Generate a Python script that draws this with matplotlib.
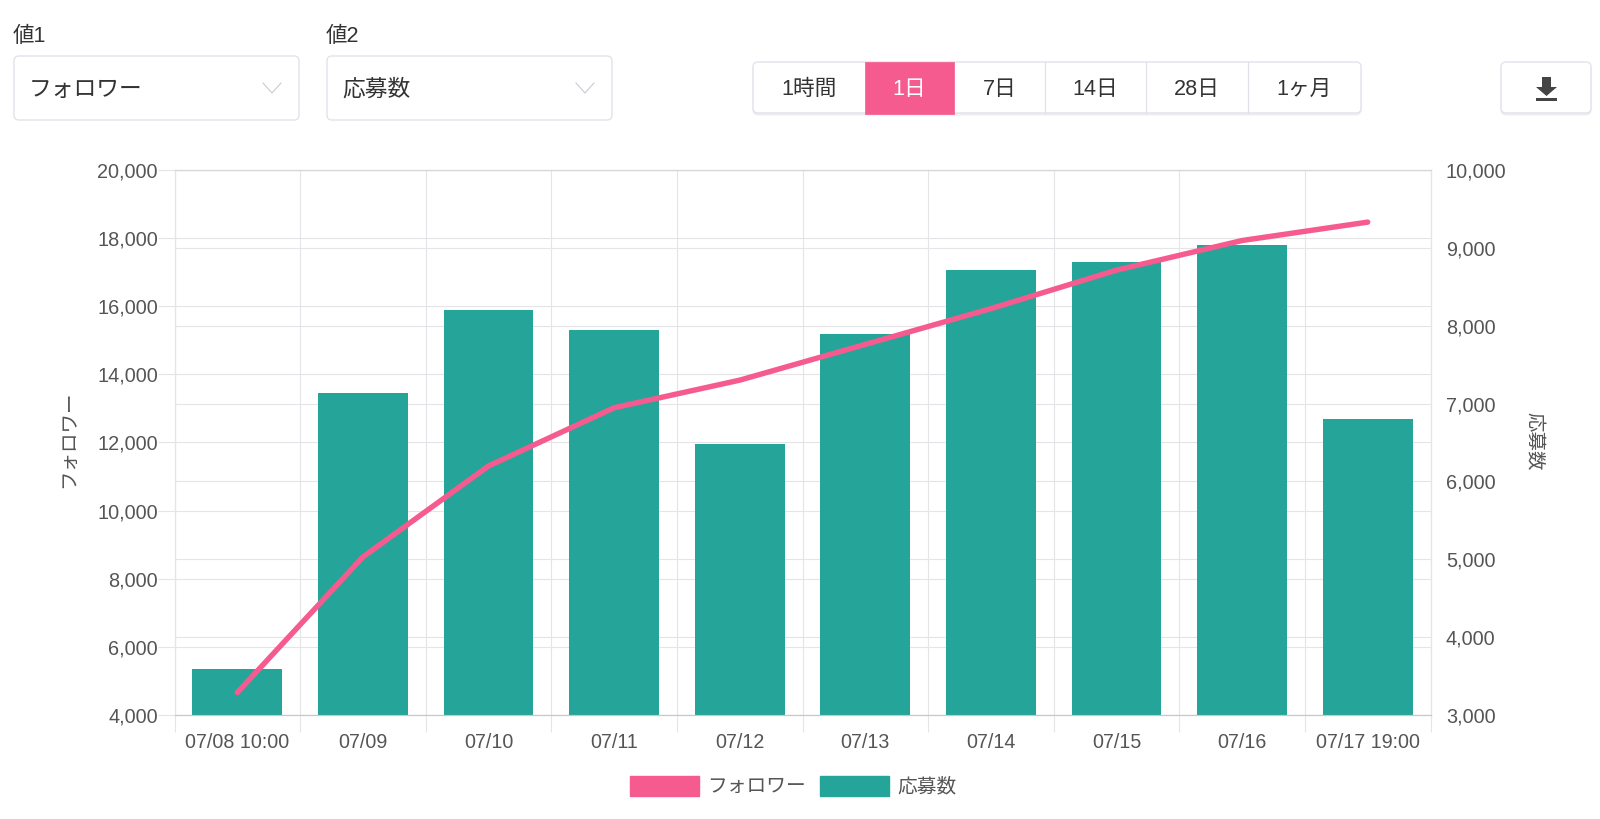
import matplotlib
matplotlib.use("Agg")
import matplotlib.pyplot as plt
from matplotlib.patches import FancyBboxPatch, Rectangle, Polygon, Patch

FONT = ['Liberation Sans', 'Noto Sans CJK JP', 'DejaVu Sans']
plt.rcParams['font.family'] = FONT

# ---- data ----
categories = ['07/08 10:00', '07/09', '07/10', '07/11', '07/12', '07/13',
              '07/14', '07/15', '07/16', '07/17 19:00']
followers = [4660, 8640, 11310, 13020, 13830, 14880, 15930, 17060, 17930, 18470]
entries = [3590, 7140, 8200, 7940, 6480, 7900, 8715, 8820, 9040, 6800]
left_ticks = [4000, 6000, 8000, 10000, 12000, 14000, 16000, 18000, 20000]
right_ticks = [3000, 4000, 5000, 6000, 7000, 8000, 9000, 10000]
series_names = ['フォロワー', '応募数']
select_labels = ['値1', '値2']
range_labels = ['1時間', '1日', '7日', '14日', '28日', '1ヶ月']

PINK = '#F55B8E'
TEAL = '#25A59A'
GRID = '#E4E4E9'
BORDER = '#DFE0E9'
TICK = '#555555'
UI = '#333333'

W, H = 1600, 819
fig = plt.figure(figsize=(W / 100, H / 100), dpi=100, facecolor='white')

# ---- chart axes ----
L, R, T, B = 174.5, 1430.5, 170, 715
rect = [L / W, 1 - B / H, (R - L) / W, (B - T) / H]
ax = fig.add_axes(rect, zorder=1)
ax2 = ax.twinx()
ax2.set_zorder(2)
ax2.patch.set_visible(False)
ax3 = ax.twinx()
ax3.set_zorder(3)
ax3.patch.set_visible(False)

xs = list(range(len(categories)))
ax.set_xlim(-0.5, len(categories) - 0.5)
ax.set_ylim(4000, 20000)
ax2.set_ylim(3000, 10000)
ax3.set_ylim(4000, 20000)
ax3.axis('off')

ax2.bar(xs, entries, width=0.716, color=TEAL, zorder=2)
ax3.plot(xs, followers, color=PINK, lw=3.9, solid_capstyle='round',
         solid_joinstyle='round', zorder=3)

# grids from both y scales and the category boundaries
ax.set_axisbelow(True)
ax.set_xticks([x - 0.5 for x in xs] + [xs[-1] + 0.5])
ax.set_xticklabels([])
ax.set_xticks(xs, minor=True)
ax.set_xticklabels(categories, minor=True, fontsize=14.1, color=TICK)
ax.tick_params(axis='x', which='major', length=12, width=0.8, color=GRID)
ax.tick_params(axis='x', which='minor', length=0, pad=13)
ax.grid(axis='x', which='major', color=GRID, lw=0.8)
ax.set_yticks(left_ticks)
ax.set_yticklabels([f'{v:,}' for v in left_ticks], fontsize=14.3, color=TICK)
ax.tick_params(axis='y', length=12, width=0.8, color=GRID, pad=0)
ax.grid(axis='y', color=GRID, lw=0.8)

ax2.set_yticks(right_ticks)
ax2.set_yticklabels([f'{v:,}' for v in right_ticks], fontsize=14.3, color=TICK)
ax2.tick_params(axis='y', length=0, pad=11)
for v in right_ticks:
    ax.axhline(4000 + (v - 3000) / 7000 * 16000, color=GRID, lw=0.8, zorder=0.5)

for a in (ax, ax2):
    for s in a.spines.values():
        s.set_color(GRID)
        s.set_linewidth(0.8)
    a.spines['bottom'].set_color('#C8C8CC')
    a.spines['top'].set_color('#D5D5DA')

ax.set_ylabel(series_names[0], fontsize=14, color=TICK)
ax.yaxis.set_label_coords((78 - L) / (R - L), (B - 439) / (B - T))
ax2.set_ylabel(series_names[1], fontsize=14, color=TICK, rotation=270, va='center')
ax2.yaxis.set_label_coords((1533 - L) / (R - L), (B - 441) / (B - T))

handles = [Patch(facecolor=PINK, edgecolor=PINK), Patch(facecolor=TEAL, edgecolor=TEAL)]
fig.legend(handles, series_names, loc='center', ncol=2, frameon=False,
           bbox_to_anchor=(793 / W, 1 - 786 / H), fontsize=14.2,
           handlelength=3.5, handleheight=1.2, handletextpad=0.42,
           columnspacing=0.72, labelcolor=TICK, borderpad=0, borderaxespad=0)

# ---- page controls above the chart ----
ui = fig.add_axes([0, 0, 1, 1], zorder=0)
ui.set_xlim(0, W)
ui.set_ylim(H, 0)
ui.axis('off')


def box(x0, y0, x1, y1, fc='white', ec=BORDER, r=5, z=2, lw=0.9):
    ui.add_patch(FancyBboxPatch((x0 + r, y0 + r), x1 - x0 - 2 * r, y1 - y0 - 2 * r,
                                boxstyle=f'round,pad={r},rounding_size={r}',
                                fc=fc, ec=ec, lw=lw, zorder=z))


# select boxes
for x0, x1, head, val in [(14, 299, select_labels[0], series_names[0]),
                          (327, 612, select_labels[1], series_names[1])]:
    ui.text(x0 - 1, 36, head, fontsize=15.5, color=UI, va='center', ha='left')
    box(x0, 56, x1, 120)
    ui.text(x0 + 15, 89.5, val, fontsize=16.4, color=UI, va='center', ha='left')
    ui.plot([x1 - 36, x1 - 27, x1 - 18], [83, 93, 83], color='#C9CBD4', lw=0.8, zorder=3)

# range buttons
BX0, BX1, BY0, BY1 = 753, 1361, 62, 113
seps = [753, 865, 954, 1045, 1146, 1248, 1361]
box(BX0, BY0 + 2, BX1, BY1 + 2, fc='#F0F0F4', ec='#F0F0F4', z=1)
box(BX0, BY0, BX1, BY1, z=2)
ui.add_patch(Rectangle((seps[1], BY0 - 0.5), seps[2] - seps[1], BY1 - BY0 + 1,
                       fc=PINK, ec=PINK, lw=0.5, zorder=3))
for s in seps[3:-1]:
    ui.plot([s, s], [BY0, BY1], color=BORDER, lw=0.9, zorder=3)
for i, lab in enumerate(range_labels):
    ui.text((seps[i] + seps[i + 1]) / 2, 89.5, lab, fontsize=15.6,
            color='white' if i == 1 else UI, ha='center', va='center', zorder=4)

# download button
box(1501, 64, 1591, 115, fc='#F0F0F4', ec='#F0F0F4', z=1)
box(1501, 62, 1591, 113)
ui.add_patch(Polygon([(1542, 77), (1551, 77), (1551, 87), (1557, 87), (1546.5, 96),
                      (1536, 87), (1542, 87)], closed=True, fc='#444444', ec='none', zorder=3))
ui.add_patch(Rectangle((1536, 97.5), 21, 3, fc='#444444', ec='none', zorder=3))

fig.savefig('out.png', dpi=100, facecolor='white')
